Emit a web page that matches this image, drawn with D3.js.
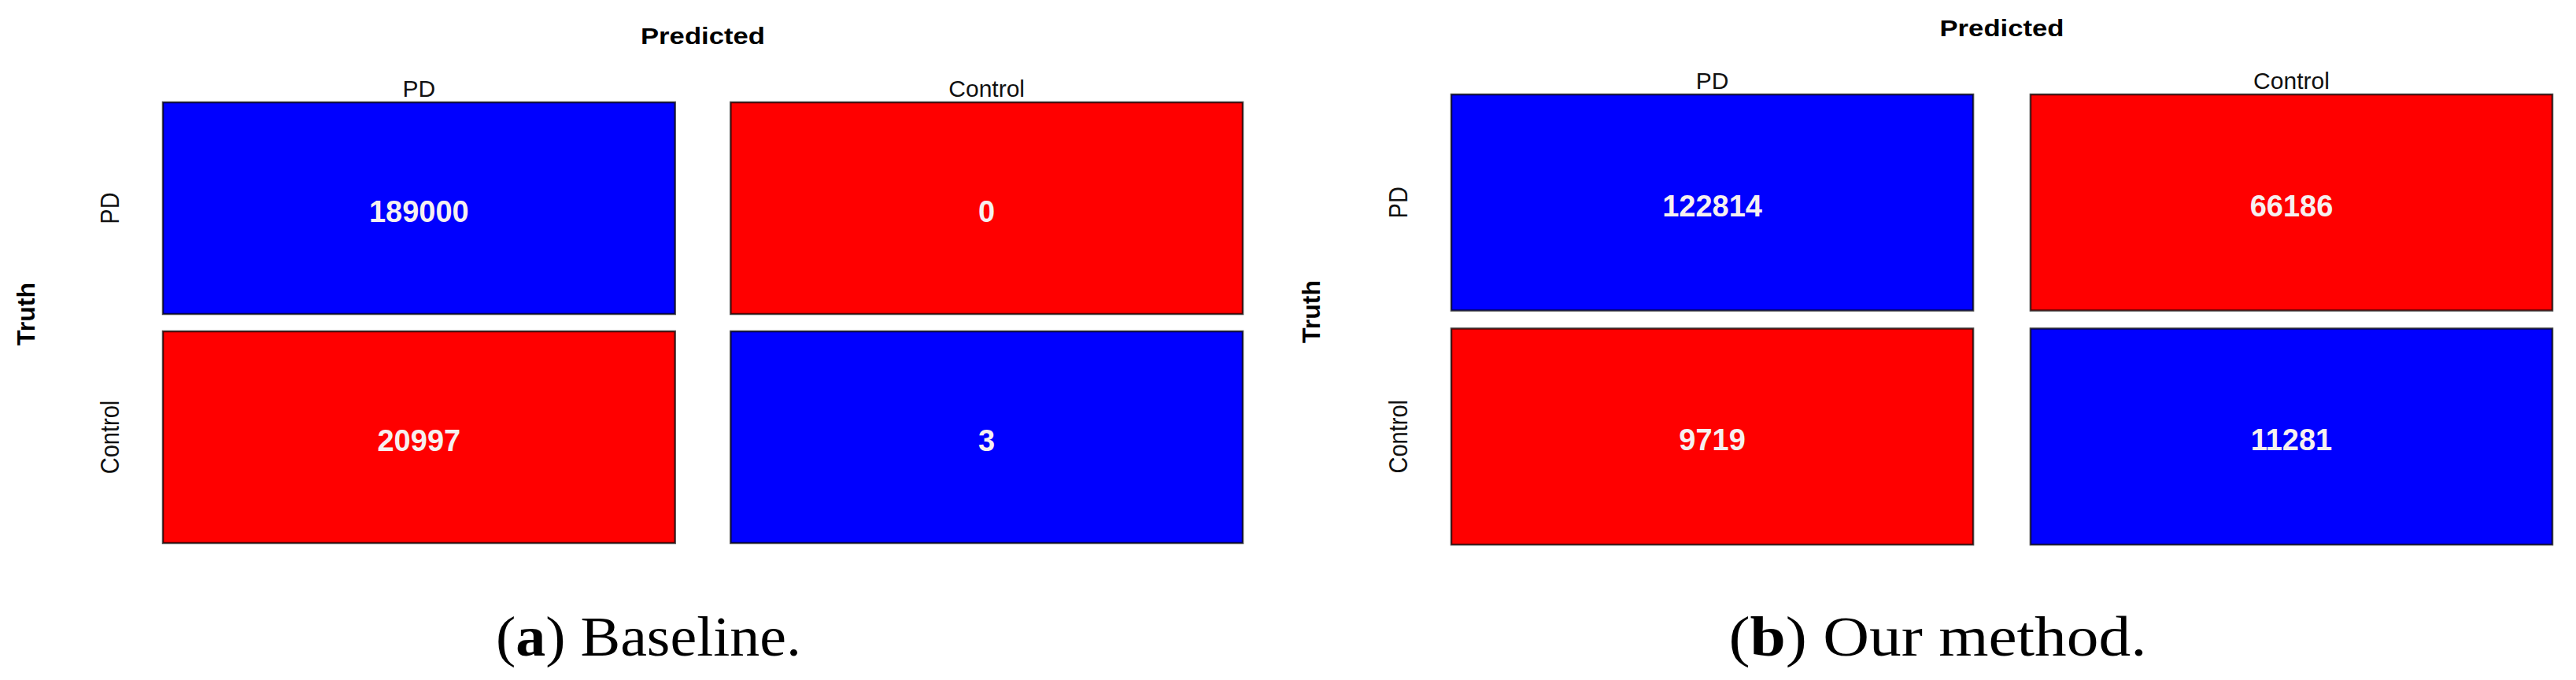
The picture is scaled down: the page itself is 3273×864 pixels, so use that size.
<!DOCTYPE html>
<html>
<head>
<meta charset="utf-8">
<script src="https://cdn.jsdelivr.net/npm/d3@7"></script>
<style>
  html, body { margin: 0; padding: 0; background: #ffffff; }
  svg { display: block; }
</style>
</head>
<body>
<svg id="chart" width="3273" height="864"></svg>
<script>
// ---------------- data ----------------
const predictedLabels = ["PD", "Control"];
const truthLabels = ["PD", "Control"];
const baselineValues = [[189000, 0], [20997, 3]];      // rows = truth, cols = predicted
const methodValues = [[122814, 66186], [9719, 11281]];
const captionLetters = ["a", "b"];
const captionTexts = [" Baseline.", " Our method."];
const axisTitles = { x: "Predicted", y: "Truth" };

// ---------------- layout (positions / styles only) ----------------
const panels = [
  { values: baselineValues, x0: 207, x1: 1579, y0: 130, y1: 690, padX: 0.098, padY: 0.0756,
    truthX: 33, truthY: 399, rowLabX: 139, capX: 824, capLen: 388 },
  { values: methodValues, x0: 1844, x1: 3243, y0: 120, y1: 692, padX: 0.099, padY: 0.077,
    truthX: 1666, truthY: 396, rowLabX: 1776, capX: 2462, capLen: 531 }
];
const BLUE = "#0000ff", RED = "#ff0000";
const sans = "'Liberation Sans', Arial, Helvetica, sans-serif";
const serif = "'Liberation Serif', 'Times New Roman', serif";

const svg = d3.select("#chart");
svg.append("rect").attr("width", 3273).attr("height", 864).attr("fill", "#fff");

panels.forEach((p, pi) => {
  const g = svg.append("g");
  const x = d3.scaleBand().domain(predictedLabels).range([p.x0, p.x1]).paddingInner(p.padX).paddingOuter(0);
  const y = d3.scaleBand().domain(truthLabels).range([p.y0, p.y1]).paddingInner(p.padY).paddingOuter(0);

  const cells = [];
  truthLabels.forEach((t, ri) => predictedLabels.forEach((pr, ci) => {
    cells.push({ truth: t, pred: pr, value: p.values[ri][ci], correct: ri === ci });
  }));

  g.selectAll("rect.cell").data(cells).join("rect")
    .attr("class", "cell")
    .attr("x", d => x(d.pred)).attr("y", d => y(d.truth))
    .attr("width", x.bandwidth()).attr("height", y.bandwidth())
    .attr("fill", d => d.correct ? BLUE : RED)
    .attr("stroke", "rgba(0,0,0,0.72)").attr("stroke-width", 2.5);

  const numFs = 38;
  g.selectAll("text.num").data(cells).join("text")
    .attr("class", "num")
    .attr("x", d => x(d.pred) + x.bandwidth() / 2)
    .attr("y", d => y(d.truth) + y.bandwidth() / 2 + numFs * 0.358 + 4)
    .attr("text-anchor", "middle")
    .attr("font-family", sans).attr("font-weight", "bold").attr("font-size", numFs)
    .attr("fill", "#f6f0f0")
    .text(d => d.value);

  // column labels (predicted)
  g.selectAll("text.col").data(predictedLabels).join("text")
    .attr("class", "col")
    .attr("x", d => x(d) + x.bandwidth() / 2)
    .attr("y", p.y0 - 7)
    .attr("text-anchor", "middle")
    .attr("font-family", sans).attr("font-size", 30).attr("fill", "#111")
    .text(d => d);

  // "Predicted" title
  g.append("text")
    .attr("x", (p.x0 + p.x1) / 2).attr("y", p.y0 - 74)
    .attr("text-anchor", "middle")
    .attr("font-family", sans).attr("font-weight", "bold").attr("font-size", 30)
    .attr("textLength", 158).attr("lengthAdjust", "spacingAndGlyphs")
    .attr("fill", "#000")
    .text(axisTitles.x);

  // row labels (truth), rotated
  const rowFs = 29, rowScale = 1.15;
  const rowCap = 0.716 * rowFs * rowScale;
  g.selectAll("text.row").data(truthLabels).join("text")
    .attr("class", "row")
    .attr("transform", d => `translate(${p.rowLabX + rowCap / 2},${y(d) + y.bandwidth() / 2}) rotate(-90) scale(1,${rowScale})`)
    .attr("text-anchor", "middle")
    .attr("font-family", sans).attr("font-size", rowFs).attr("fill", "#111")
    .text(d => d);

  // "Truth" title, rotated
  const tFs = 32;
  g.append("text")
    .attr("transform", `translate(${p.truthX + 0.716 * tFs / 2},${p.truthY}) rotate(-90)`)
    .attr("text-anchor", "middle")
    .attr("font-family", sans).attr("font-weight", "bold").attr("font-size", tFs)
    .attr("fill", "#000")
    .text(axisTitles.y);

  // caption
  const cap = g.append("text")
    .attr("x", p.capX).attr("y", 833)
    .attr("text-anchor", "middle")
    .attr("font-family", serif).attr("font-size", 72).attr("fill", "#000")
    .attr("textLength", p.capLen).attr("lengthAdjust", "spacingAndGlyphs");
  cap.append("tspan").text("(");
  cap.append("tspan").attr("font-weight", "bold").text(captionLetters[pi]);
  cap.append("tspan").text(")" + captionTexts[pi]);
});
</script>
</body>
</html>
